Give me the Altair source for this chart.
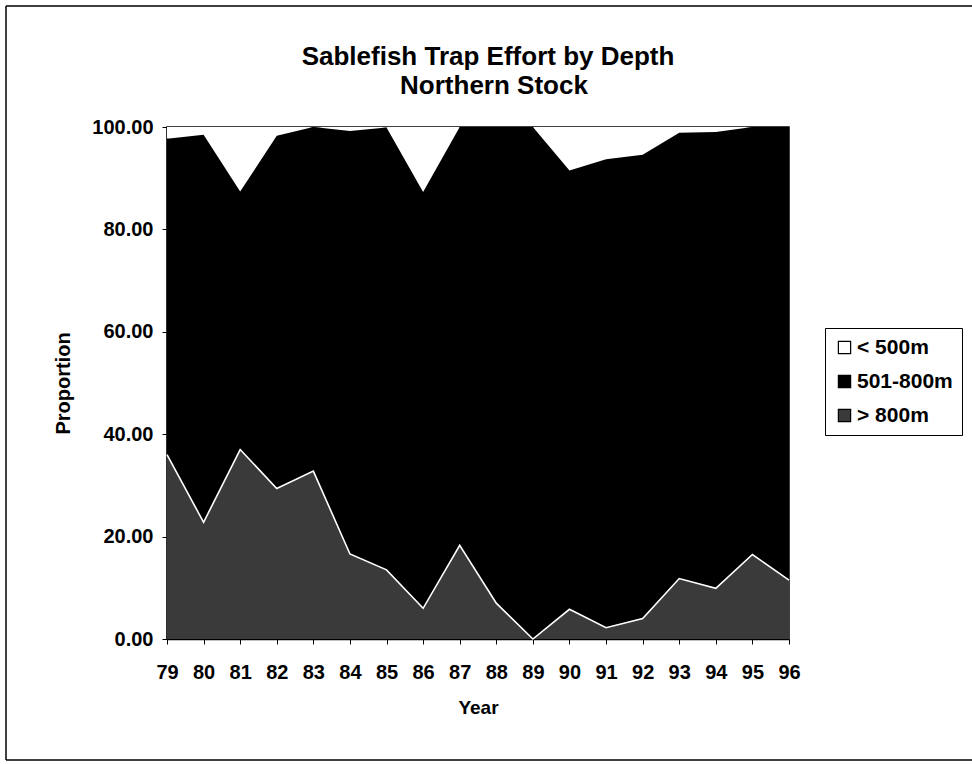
import altair as alt
import pandas as pd

# Trap effort share (%) by depth stratum, northern stock, 1979-1996
years = [79, 80, 81, 82, 83, 84, 85, 86, 87, 88, 89, 90, 91, 92, 93, 94, 95, 96]
pct_shallow = [2.3, 1.5, 12.6, 1.7, 0.0, 0.8, 0.1, 12.7, 0.0, 0.0, 0.0, 8.5, 6.3, 5.4, 1.1, 1.0, 0.0, 0.0]
pct_mid = [61.7, 75.7, 50.4, 68.9, 67.2, 82.6, 86.4, 81.3, 81.7, 93.0, 100.0, 85.7, 91.5, 90.6, 87.1, 89.1, 83.5, 88.5]
pct_deep = [36.0, 22.8, 37.0, 29.4, 32.8, 16.6, 13.5, 6.0, 18.3, 7.0, 0.0, 5.8, 2.2, 4.0, 11.8, 9.9, 16.5, 11.5]

strata = ["< 500m", "501-800m", "> 800m"]
stack_rank = {"> 800m": 0, "501-800m": 1, "< 500m": 2}
fills = ["#ffffff", "#000000", "#3a3a3a"]
title_lines = ["Sablefish Trap Effort by Depth", "Northern Stock"]

rows = []
for i, yr in enumerate(years):
    for name, series in zip(strata, [pct_shallow, pct_mid, pct_deep]):
        rows.append({"year": yr, "stratum": name, "pct": series[i], "rank": stack_rank[name]})
df = pd.DataFrame(rows)
deep_df = pd.DataFrame({"year": years, "pct": pct_deep})

FONT = "Liberation Sans"
W, H = 622, 512
LEFT, TOP = 167, 127

x_axis = alt.Axis(
    values=years, format="d", title="Year", grid=False,
    labelFont=FONT, labelFontSize=20, labelFontWeight="bold", labelColor="black",
    labelFlush=False, labelOverlap=False, labelPadding=18,
    tickSize=5, tickColor="black", domainColor="black", domainWidth=1.5,
    titleFont=FONT, titleFontSize=19, titleFontWeight="bold", titleColor="black",
    titlePadding=16,
)
y_axis = alt.Axis(
    values=[0, 20, 40, 60, 80, 100], format=".2f", title="Proportion", grid=False,
    labelFont=FONT, labelFontSize=20, labelFontWeight="bold", labelColor="black",
    labelFlush=False, labelOverlap=False, labelPadding=9,
    tickSize=5, tickColor="black", domainColor="black", domainWidth=1.5,
    titleFont=FONT, titleFontSize=20, titleFontWeight="bold", titleColor="black",
    titlePadding=18,
)
x_scale = alt.Scale(domain=[79, 96], nice=False, zero=False)
y_scale = alt.Scale(domain=[0, 100], nice=False)

areas = (
    alt.Chart(df)
    .transform_stack(stack="pct", groupby=["year"], sort=[{"field": "rank", "order": "ascending"}], as_=["lo", "hi"])
    .mark_area(interpolate="linear", strokeWidth=0)
    .encode(
        x=alt.X("year:Q", scale=x_scale, axis=x_axis),
        y=alt.Y("hi:Q", scale=y_scale, axis=y_axis),
        y2="lo:Q",
        color=alt.Color(
            "stratum:N",
            scale=alt.Scale(domain=strata, range=fills),
            legend=alt.Legend(
                title=None, orient="none", legendX=658, legendY=201,
                symbolType="square", symbolSize=150, symbolStrokeColor="black",
                symbolStrokeWidth=1.2, symbolOpacity=1,
                labelFont=FONT, labelFontSize=21, labelFontWeight="bold", labelColor="black",
                labelOffset=2, rowPadding=12, padding=9,
                strokeColor="black", fillColor="white",
            ),
        ),
        detail="rank:O",
    )
)

# white edge along the top of the deepest stratum
deep_edge = (
    alt.Chart(deep_df)
    .mark_line(color="white", strokeWidth=1.6)
    .encode(
        x=alt.X("year:Q", scale=x_scale, axis=x_axis),
        y=alt.Y("pct:Q", scale=y_scale, axis=y_axis),
    )
)

one = pd.DataFrame({"k": [0]})

# two-line heading, placed relative to the plot area
heading = alt.layer(
    alt.Chart(one).mark_text(font=FONT, fontSize=26, fontWeight="bold", color="black",
                             align="center", baseline="alphabetic").encode(
        x=alt.value(488 - LEFT), y=alt.value(65 - TOP), text=alt.value(title_lines[0])
    ),
    alt.Chart(one).mark_text(font=FONT, fontSize=26, fontWeight="bold", color="black",
                             align="center", baseline="alphabetic").encode(
        x=alt.value(494 - LEFT), y=alt.value(94 - TOP), text=alt.value(title_lines[1])
    ),
)

# page frame
frame_top = alt.Chart(one).mark_rule(color="black", strokeWidth=1.5).encode(
    x=alt.value(6 - LEFT), x2=alt.value(972 - LEFT), y=alt.value(6 - TOP)
)
frame_left = alt.Chart(one).mark_rule(color="black", strokeWidth=1.5).encode(
    x=alt.value(6 - LEFT), y=alt.value(6 - TOP), y2=alt.value(760 - TOP)
)
frame_bottom = alt.Chart(one).mark_rule(color="black", strokeWidth=1.5).encode(
    x=alt.value(6 - LEFT), x2=alt.value(972 - LEFT), y=alt.value(760 - TOP)
)

chart = (
    alt.layer(areas, deep_edge, heading, frame_top, frame_left, frame_bottom)
    .properties(
        width=W,
        height=H,
        autosize=alt.AutoSizeParams(type="none"),
        padding={"left": LEFT, "top": TOP, "right": 972 - LEFT - W, "bottom": 764 - TOP - H},
        background="white",
    )
    .configure_view(stroke="black", strokeWidth=1.5)
)

chart.save("out.html", embed_options={"renderer": "svg", "actions": False})
